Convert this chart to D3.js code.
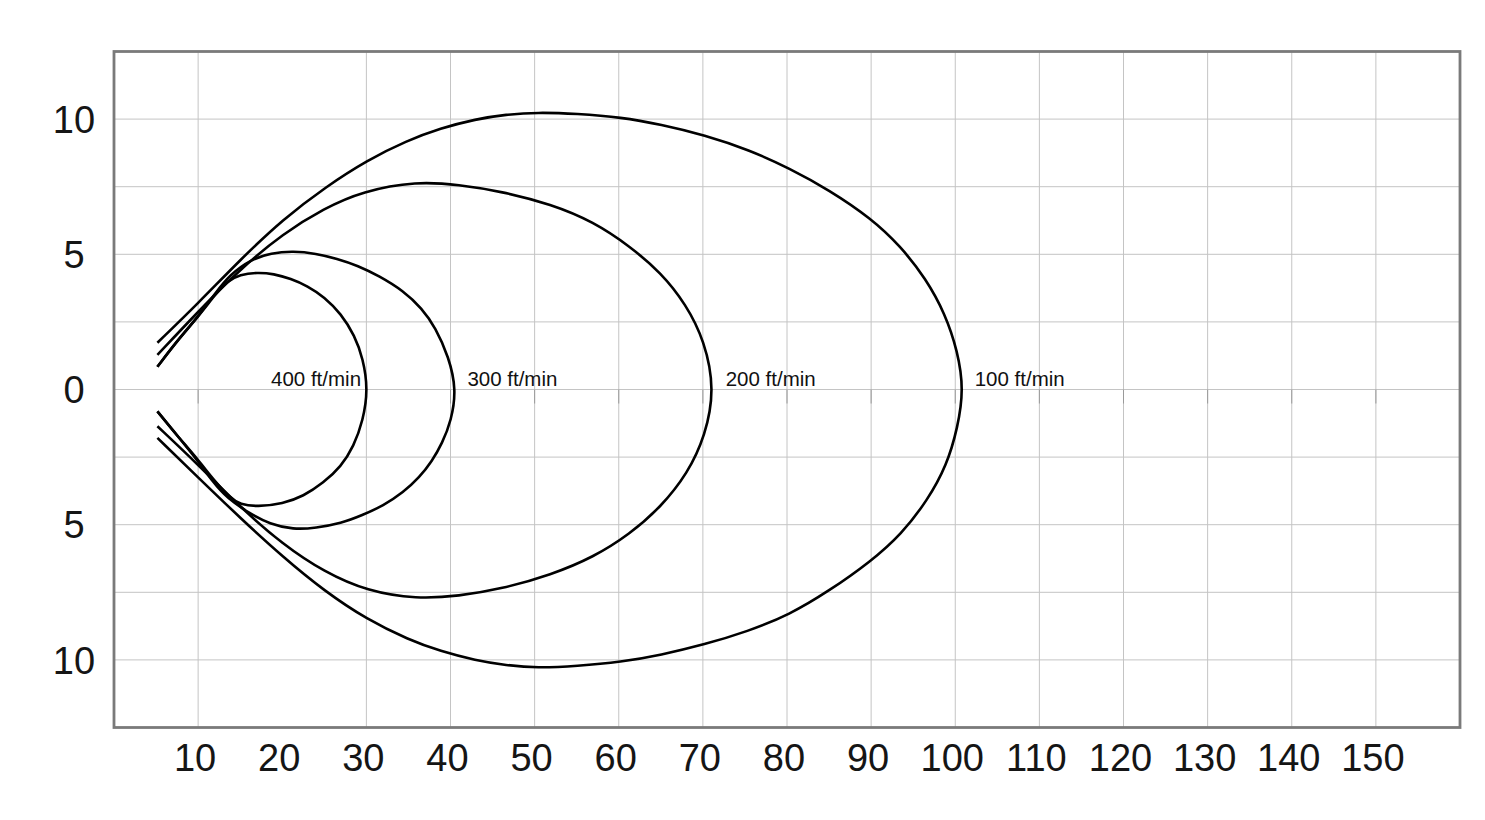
<!DOCTYPE html>
<html>
<head>
<meta charset="utf-8">
<script src="https://cdn.jsdelivr.net/npm/d3@7"></script>
<style>
  html, body { margin: 0; padding: 0; background: #fff; }
  svg { display: block; font-family: "Liberation Sans", Arial, sans-serif; }
</style>
</head>
<body>
<svg id="chart" width="1485" height="820"></svg>
<script>
// ---- data ----
const xTicks = [10, 20, 30, 40, 50, 60, 70, 80, 90, 100, 110, 120, 130, 140, 150];
const xGrid = [10, 30, 40, 50, 60, 70, 80, 90, 100, 110, 120, 130, 140, 150];
const yTicks = [10, 5, 0, -5, -10];
const yTickLabels = ["10", "5", "0", "5", "10"];
const yGrid = [10, 7.5, 5, 2.5, 0, -2.5, -5, -7.5, -10];
const speeds = ["400 ft/min", "300 ft/min", "200 ft/min", "100 ft/min"];

const curve400 = [[5.16,0.84],[7.5,1.8],[10.0,2.69],[12.0,3.5],[13.4,4.0],[15.0,4.25],[17.0,4.33],[19.0,4.28],[21.0,4.1],[23.0,3.83],[25.0,3.42],[27.0,2.8],[28.6,2.0],[29.6,1.15],[30.2,0],
  [29.6,-1.15],[28.5,-2.1],[27.0,-2.85],[24.9,-3.45],[22.5,-3.95],[20.1,-4.22],[17.0,-4.34],[15.0,-4.25],[13.8,-4.01],[12.0,-3.4],[10.0,-2.6],[7.5,-1.7],[5.16,-0.81]];
const curve300 = [[5.16,0.84],[7.5,1.8],[10.0,2.69],[12.0,3.55],[13.8,4.25],[16.2,4.8],[18.7,5.05],[21.3,5.12],[24.0,5.03],[26.5,4.84],[29.0,4.58],[31.5,4.2],[34.4,3.65],[36.6,3.0],[38.2,2.3],[39.8,1.2],[40.7,0],
  [40.1,-1.15],[39.0,-2.0],[37.8,-2.65],[36.3,-3.25],[34.4,-3.8],[32.0,-4.3],[29.5,-4.65],[27.0,-4.95],[24.0,-5.12],[21.3,-5.18],[18.5,-4.97],[16.2,-4.6],[13.4,-4.01],[11.7,-3.4],[10.0,-2.65],[7.5,-1.7],[5.16,-0.81]];
const curve200 = [[5.16,1.28],[10.0,2.88],[15.0,4.45],[20.1,5.77],[25.0,6.7],[29.5,7.33],[36.0,7.7],[41.0,7.57],[46.0,7.33],[52.0,6.85],[57.0,6.2],[61.3,5.3],[65.0,4.33],[68.0,3.15],[70.2,1.8],[71.4,0],
  [70.3,-1.7],[68.2,-3.1],[65.0,-4.35],[61.3,-5.35],[57.0,-6.2],[52.0,-6.85],[46.0,-7.38],[41.0,-7.64],[36.0,-7.75],[30.1,-7.46],[25.0,-6.75],[20.1,-5.74],[15.0,-4.35],[10.0,-2.78],[5.16,-1.36]];
const curve100 = [[5.16,1.73],[10.0,3.19],[15.0,4.8],[20.1,6.3],[25.2,7.5],[30.1,8.48],[34.8,9.2],[38.8,9.66],[43.0,10.0],[46.6,10.17],[50.3,10.25],[55.0,10.2],[60.3,10.07],[65.0,9.8],[70.2,9.41],[75.5,8.86],[80.3,8.18],[85.0,7.38],[90.0,6.33],[93.5,5.3],[96.5,4.1],[98.8,2.8],[100.3,1.4],[101.0,0],
  [100.3,-1.4],[99.0,-2.8],[96.7,-4.1],[93.6,-5.35],[90.0,-6.35],[85.0,-7.45],[80.3,-8.33],[75.3,-8.95],[70.2,-9.43],[65.0,-9.82],[60.3,-10.08],[55.0,-10.23],[50.3,-10.3],[46.6,-10.2],[43.0,-10.02],[38.8,-9.68],[35.0,-9.25],[30.1,-8.51],[25.0,-7.45],[20.1,-6.2],[15.0,-4.75],[10.0,-3.25],[5.16,-1.79]];
const curves = [curve400, curve300, curve200, curve100];

// ---- layout ----
const svg = d3.select("#chart");
const L = 114, R = 1460, T = 51.5, B = 727.5;
const x = d3.scaleLinear().domain([0, 160]).range([L, R]);
const y = d3.scaleLinear().domain([-12.5, 12.5]).range([B, T]);

// grid
svg.append("g").selectAll("line").data(xGrid).join("line")
  .attr("x1", d => x(d)).attr("x2", d => x(d)).attr("y1", T).attr("y2", B)
  .attr("stroke", "#c4c4c4").attr("stroke-width", 1);
svg.append("g").selectAll("line").data(yGrid).join("line")
  .attr("x1", L).attr("x2", R).attr("y1", d => y(d)).attr("y2", d => y(d))
  .attr("stroke", "#c4c4c4").attr("stroke-width", 1);
// small ticks on the zero line
svg.append("g").selectAll("line").data(xGrid).join("line")
  .attr("x1", d => x(d)).attr("x2", d => x(d)).attr("y1", y(0)).attr("y2", y(0) + 14)
  .attr("stroke", "#9a9a9a").attr("stroke-width", 1);

// frame
svg.append("rect").attr("x", L).attr("y", T).attr("width", R - L).attr("height", B - T)
  .attr("fill", "none").attr("stroke", "#7a7a7a").attr("stroke-width", 2.8);

// axis labels
svg.append("g").selectAll("text").data(xTicks).join("text")
  .attr("x", d => x(d) - 3).attr("y", 771)
  .attr("text-anchor", "middle").attr("font-size", 38).attr("fill", "#151515")
  .text(d => d);
svg.append("g").selectAll("text").data(yTicks).join("text")
  .attr("x", 74).attr("y", d => y(d)).attr("dy", "0.36em")
  .attr("text-anchor", "middle").attr("font-size", 38).attr("fill", "#151515")
  .text((d, i) => yTickLabels[i]);

// curves
const line = d3.line().x(d => x(d[0])).y(d => y(d[1])).curve(d3.curveBasis);
svg.append("g").selectAll("path").data(curves).join("path")
  .attr("d", line).attr("fill", "none").attr("stroke", "#000").attr("stroke-width", 2.6)
  .attr("stroke-linecap", "butt").attr("stroke-linejoin", "round");

// curve labels
svg.append("g").selectAll("text").data(curves).join("text")
  .attr("x", (c, i) => { const mx = d3.max(c, p => p[0]); return i === 0 ? x(mx) - 7 : x(mx) + 11; })
  .attr("y", y(0) - 4)
  .attr("text-anchor", (c, i) => i === 0 ? "end" : "start")
  .attr("font-size", 20.5).attr("fill", "#111")
  .text((c, i) => speeds[i]);
</script>
</body>
</html>
